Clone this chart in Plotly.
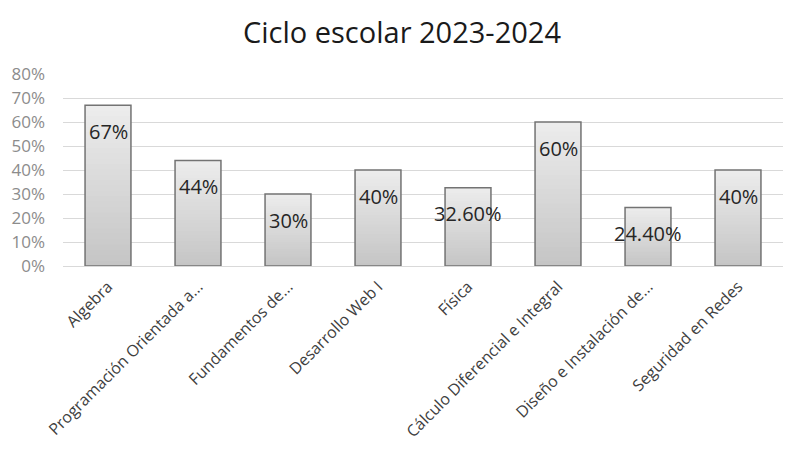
import plotly.graph_objects as go

categories = ["Algebra", "Programación Orientada a...", "Fundamentos de...", "Desarrollo Web I",
              "Física", "Cálculo Diferencial e Integral", "Diseño e Instalación de...", "Seguridad en Redes"]
values = [0.67, 0.44, 0.30, 0.40, 0.326, 0.60, 0.244, 0.40]
labels = ["67%", "44%", "30%", "40%", "32.60%", "60%", "24.40%", "40%"]

FONT = "Open Sans"
fig = go.Figure()

# gradient simulation: overlaid bars from full height (light) to short (dark)
N = 30
top_c = (236, 236, 236)
bot_c = (196, 196, 196)
for k in range(N, 0, -1):
    f = k / N
    c = tuple(round(bot_c[i] + (top_c[i] - bot_c[i]) * f) for i in range(3))
    fig.add_trace(go.Bar(
        x=categories, y=[v * f for v in values],
        marker=dict(color="rgb(%d,%d,%d)" % c, line=dict(width=0)),
        hoverinfo="skip", showlegend=False, width=0.51,
    ))
# outline
fig.add_trace(go.Bar(
    x=categories, y=values,
    marker=dict(color="rgba(0,0,0,0)", line=dict(color="#737373", width=1.5)),
    showlegend=False, width=0.51,
))

for c, v, l in zip(categories, values, labels):
    fig.add_annotation(x=c, y=v, text=l, showarrow=False, yshift=-26,
                       font=dict(family=FONT, size=20, color="#262626"))

fig.update_layout(
    barmode="overlay",
    width=788, height=468,
    margin=dict(l=55, r=13, t=66, b=210, autoexpand=False),
    paper_bgcolor="white", plot_bgcolor="white",
    title=dict(text="Ciclo escolar 2023-2024", x=0.5, xanchor="center", y=1 - 25 / 468, yanchor="middle",
               font=dict(family=FONT, size=29, color="#1a1a1a")),
    font=dict(family=FONT),
)
fig.update_yaxes(range=[0, 0.8], dtick=0.1, tickformat=".0%", showgrid=True, gridcolor="#d9d9d9",
                 gridwidth=1, zeroline=False, showline=False, ticklabelstandoff=17, automargin=False,
                 tickfont=dict(family=FONT, size=17, color="#8c8c8c"))
fig.update_xaxes(tickangle=-45, showline=True, linecolor="#d9d9d9", linewidth=1, ticks="",
                 ticklabelstandoff=4, automargin=False,
                 tickfont=dict(family=FONT, size=16, color="#404040"))

fig.write_html("out.html")
